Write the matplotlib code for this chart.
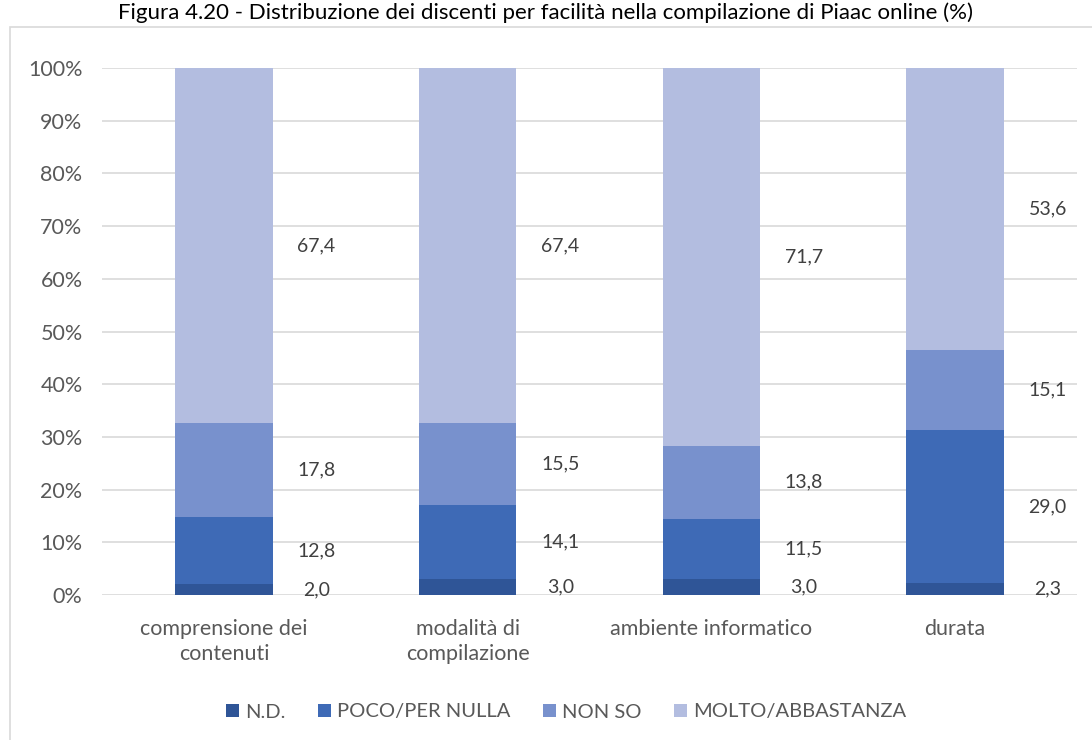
import matplotlib
matplotlib.use("Agg")
import matplotlib.pyplot as plt
from matplotlib.patches import Rectangle
import numpy as np

# ---- data ----
categories = ["comprensione dei\ncontenuti", "modalità di\ncompilazione",
              "ambiente informatico", "durata"]
series_names = ["N.D.", "POCO/PER NULLA", "NON SO", "MOLTO/ABBASTANZA"]
nd = [2.0, 3.0, 3.0, 2.3]
poco = [12.8, 14.1, 11.5, 29.0]
non_so = [17.8, 15.5, 13.8, 15.1]
molto = [67.4, 67.4, 71.7, 53.6]
yticks = [0, 10, 20, 30, 40, 50, 60, 70, 80, 90, 100]
title = "Figura 4.20 - Distribuzione dei discenti per facilità nella compilazione di Piaac online (%)"

colors = ["#2F5597", "#3E6AB6", "#7891CD", "#B3BDE0"]

plt.rcParams['font.family'] = ['Lato', 'DejaVu Sans']

W, H = 1092, 740
fig = plt.figure(figsize=(W / 100, H / 100), dpi=100)

# chart area border
fig.patches.append(Rectangle((10 / W, -0.05), 1.2, (1 - 27 / H) + 0.05,
                             transform=fig.transFigure, fill=False,
                             edgecolor="#D9D9D9", linewidth=1.2))

fig.text(0.5, 1 - 13 / H, title, ha="center", va="center",
         fontsize=16, color="#000000")

ax = fig.add_axes([102 / W, 1 - 595 / H, 975 / W, (595 - 68) / H])
x = np.arange(len(categories))
width = 0.40
bottom = np.zeros(len(categories))
series = [nd, poco, non_so, molto]
for name, vals, col in zip(series_names, series, colors):
    vals = np.array(vals)
    ax.bar(x, vals, width, bottom=bottom, color=col, label=name, zorder=2)
    for xi, b, v in zip(x, bottom, vals):
        ax.text(xi + 0.38, b + v / 2, f"{v:.1f}".replace(".", ","),
                ha="center", va="center", fontsize=14, color="#404040")
    bottom = bottom + vals

ax.set_xlim(-0.5, len(categories) - 0.5)
ax.set_ylim(0, 100)
ax.set_yticks(yticks)
ax.set_yticklabels([f"{t}%" for t in yticks], fontsize=15.5, color="#595959")
ax.set_xticks(x)
ax.set_xticklabels(categories, fontsize=15.5, color="#595959", linespacing=1.35)
ax.tick_params(axis="both", length=0)
ax.tick_params(axis="y", pad=14)
ax.tick_params(axis="x", pad=17)
ax.yaxis.grid(True, color="#D9D9D9", linewidth=1.2, zorder=0)
ax.set_axisbelow(True)
for s in ax.spines.values():
    s.set_visible(False)

handles, labels = ax.get_legend_handles_labels()
fig.legend(handles, labels, loc="center", bbox_to_anchor=(566 / W, 1 - 712 / H),
           ncol=4, frameon=False, fontsize=14.5, handlelength=0.65, handleheight=0.65,
           handletextpad=0.3, columnspacing=1.6, labelcolor="#595959")

fig.savefig("out.png", dpi=100)
